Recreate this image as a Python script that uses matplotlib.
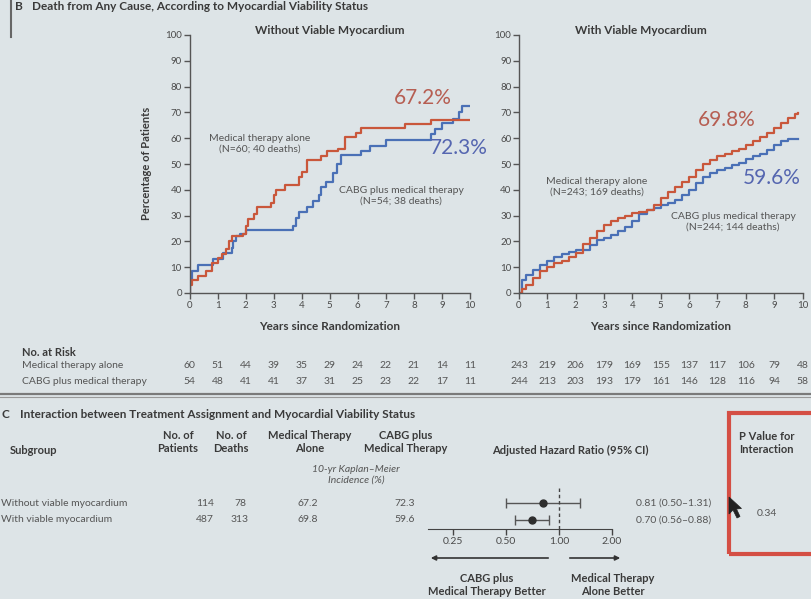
import numpy as np
import matplotlib.pyplot as plt
from matplotlib import transforms
from matplotlib.patches import Rectangle, Polygon, FancyArrowPatch
from matplotlib.lines import Line2D
from matplotlib.ticker import NullLocator

W, H = 811, 599
BG = '#dde4e7'
TXT = '#3a3a3a'
GREY = '#555555'
RED = '#c9573b'
BLUE = '#4a70b6'

plt.rcParams['font.family'] = ['Lato', 'DejaVu Sans']

# --- panel B, without viable myocardium (cumulative % dead, step curves)
t_med_nv = [0, 0.03, 0.1, 0.3, 0.6, 0.8, 1.0, 1.15, 1.3, 1.4, 1.5, 1.9, 2.0, 2.1, 2.3, 2.4,
            2.9, 3.0, 3.1, 3.4, 3.9, 4.0, 4.2, 4.7, 4.9, 5.3, 5.55, 5.95, 6.1, 7.7, 8.6, 10.0]
y_med_nv = [0, 3, 5, 6.5, 8.5, 11.5, 13.5, 15, 17, 20, 22, 23, 26, 28.5, 30.5, 33.5,
            35, 38, 40, 42, 45, 47, 51.5, 53, 55, 56, 60.5, 62, 64, 65.5, 67.2, 67.2]
t_cabg_nv = [0, 0.03, 0.1, 0.3, 0.85, 1.2, 1.5, 1.55, 1.65, 1.8, 2.0, 3.7, 3.8, 3.9, 4.2,
             4.4, 4.6, 4.7, 4.85, 5.1, 5.25, 5.4, 6.1, 6.45, 7.0, 8.6, 8.75, 9.0, 9.4, 9.6,
             9.7, 10.0]
y_cabg_nv = [0, 5, 8.5, 11, 13, 15.5, 17.5, 20, 22, 23, 24.5, 26, 29, 31.5, 33.5,
             35.5, 38, 41, 43, 46.5, 50, 53.5, 55, 57, 59.4, 61.5, 63.5, 66, 67.5, 70,
             72.3, 72.3]

# --- panel B, with viable myocardium
t_med_v = [0, 0.1, 0.25, 0.5, 0.75, 1.0, 1.25, 1.5, 1.75, 2.0, 2.25, 2.5, 2.75, 3.0, 3.25,
           3.5, 3.75, 4.0, 4.25, 4.5, 4.75, 5.0, 5.25, 5.5, 5.75, 6.0, 6.25, 6.5, 6.75,
           7.0, 7.25, 7.5, 7.75, 8.0, 8.25, 8.5, 8.75, 9.0, 9.25, 9.5, 9.75, 9.85]
y_med_v = [0, 1.5, 3, 6, 8.5, 10, 11.5, 12.5, 14, 15.5, 19, 21.5, 24, 26.5, 28,
           29, 30, 31, 31.5, 32, 34, 37, 39, 41, 43, 45, 47.5, 50, 51.5,
           53, 54, 55, 56, 57.5, 59, 60.5, 62, 64, 66, 68, 69.5, 69.8]
t_cabg_v = t_med_v
y_cabg_v = [0, 5, 7, 9, 11, 12.5, 14, 15, 16, 16.5, 16.5, 18.5, 20.5, 21.5, 22.5,
            24, 25.5, 28, 30.5, 32, 33, 34, 35, 36, 38, 40, 42.5, 45, 46.5,
            47.5, 48.5, 49.5, 50.5, 52, 53, 54, 55.5, 57.5, 59, 59.6, 59.6, 59.6]

risk_years = list(range(11))
risk_med_nv = [60, 51, 44, 39, 35, 29, 24, 22, 21, 14, 11]
risk_cabg_nv = [54, 48, 41, 41, 37, 31, 25, 23, 22, 17, 11]
risk_med_v = [243, 219, 206, 179, 169, 155, 137, 117, 106, 79, 48]
risk_cabg_v = [244, 213, 203, 193, 179, 161, 146, 128, 116, 94, 58]

# --- panel C
subgroups = ['Without viable myocardium', 'With viable myocardium']
n_patients = [114, 487]
n_deaths = [78, 313]
km_med = ['67.2', '69.8']
km_cabg = ['72.3', '59.6']
hr = np.array([0.81, 0.70])
hr_lo = np.array([0.50, 0.56])
hr_hi = np.array([1.31, 0.88])
p_interaction = '0.34'

fig = plt.figure(figsize=(W / 100, H / 100), dpi=100, facecolor=BG)


def fx(x):
    return x / W


def fy(y):
    return 1 - y / H


def put(x, y, s, **kw):
    kw.setdefault('color', TXT)
    kw.setdefault('fontsize', 7.5)
    kw.setdefault('va', 'center')
    fig.text(fx(x), fy(y), s, **kw)


def km_axes(x0, x1):
    ax = fig.add_axes([fx(x0), fy(293), fx(x1 - x0), (293 - 35) / H])
    ax.set_facecolor('none')
    ax.set_xlim(0, 10)
    ax.set_ylim(0, 100)
    ax.set_xticks(range(0, 11))
    ax.set_yticks(range(0, 101, 10))
    for s in ['top', 'right']:
        ax.spines[s].set_visible(False)
    for s in ['left', 'bottom']:
        ax.spines[s].set_color(GREY)
        ax.spines[s].set_linewidth(1)
    ax.tick_params(direction='out', length=4, width=1, colors=GREY,
                   labelsize=7, labelcolor='#4a4a4a', pad=1.5)
    return ax


# top heading (cropped off in the photo, kept just inside here)
put(15, 1, 'B', fontsize=8.5, fontweight='bold', va='top')
put(32, 1, 'Death from Any Cause, According to Myocardial Viability Status',
    fontsize=8.5, fontweight='bold', va='top')
fig.add_artist(Line2D([fx(11), fx(11)], [fy(0), fy(37)], color='#666666', lw=1.5))

ax1 = km_axes(189.5, 470)
ax1.step(t_cabg_nv, y_cabg_nv, where='post', color=BLUE, lw=1.6)
ax1.step(t_med_nv, y_med_nv, where='post', color=RED, lw=1.6)
ax2 = km_axes(519, 802.5)
ax2.step(t_cabg_v, y_cabg_v, where='post', color=BLUE, lw=1.6)
ax2.step(t_med_v, y_med_v, where='post', color=RED, lw=1.6)

put(330, 31, 'Without Viable Myocardium', fontsize=8.5, fontweight='bold', ha='center')
put(641, 31, 'With Viable Myocardium', fontsize=8.5, fontweight='bold', ha='center')
put(147, 163, 'Percentage of Patients', fontsize=8, fontweight='bold', ha='center', rotation=90)
put(330, 326, 'Years since Randomization', fontsize=8.5, fontweight='bold', ha='center')
put(661, 326, 'Years since Randomization', fontsize=8.5, fontweight='bold', ha='center')

ann = dict(fontsize=7.5, color='#555555', ha='center', linespacing=1.25)
put(260, 144, 'Medical therapy alone\n(N=60; 40 deaths)', **ann)
put(401, 196, 'CABG plus medical therapy\n(N=54; 38 deaths)', **ann)
put(597, 187, 'Medical therapy alone\n(N=243; 169 deaths)', **ann)
put(733, 222, 'CABG plus medical therapy\n(N=244; 144 deaths)', **ann)
put(423, 98, '67.2%', fontsize=15, color='#b65e52', ha='center')
put(459, 148, '72.3%', fontsize=15, color='#5566b0', ha='center')
put(727, 120, '69.8%', fontsize=15, color='#b65e52', ha='center')
put(772, 178, '59.6%', fontsize=15, color='#5566b0', ha='center')

# number at risk
put(22, 352, 'No. at Risk', fontsize=8, fontweight='bold', ha='left')
put(22, 366, 'Medical therapy alone', fontsize=7.5, color='#555555', ha='left')
put(22, 381, 'CABG plus medical therapy', fontsize=7.5, color='#555555', ha='left')
for ax, r_med, r_cabg in [(ax1, risk_med_nv, risk_cabg_nv), (ax2, risk_med_v, risk_cabg_v)]:
    tr = transforms.blended_transform_factory(ax.transData, fig.transFigure)
    for yr, a, b in zip(risk_years, r_med, r_cabg):
        ax.text(yr, fy(366), str(a), transform=tr, ha='center', va='center',
                fontsize=7.5, color='#555555', clip_on=False)
        ax.text(yr, fy(381), str(b), transform=tr, ha='center', va='center',
                fontsize=7.5, color='#555555', clip_on=False)

fig.add_artist(Line2D([0, 1], [fy(393.5), fy(393.5)], color='#7a7a7a', lw=1.6))
fig.add_artist(Line2D([0, 1], [fy(397), fy(397)], color='#9a9a9a', lw=0.8))

# panel C table
put(2, 415, 'C', fontsize=8.5, fontweight='bold', ha='left')
put(20, 415, 'Interaction between Treatment Assignment and Myocardial Viability Status',
    fontsize=8.5, fontweight='bold', ha='left')
hdr = dict(fontsize=8, fontweight='bold', ha='center', linespacing=1.3)
put(10, 450, 'Subgroup', fontsize=8, fontweight='bold', ha='left')
put(178, 442, 'No. of\nPatients', **hdr)
put(231, 442, 'No. of\nDeaths', **hdr)
put(310, 442, 'Medical Therapy\nAlone', **hdr)
put(406, 442, 'CABG plus\nMedical Therapy', **hdr)
put(570, 450, 'Adjusted Hazard Ratio (95% CI)', fontsize=8, fontweight='bold', ha='center')
put(356, 475, '10-yr Kaplan\u2013Meier\nIncidence (%)', fontsize=7.5, style='italic',
    ha='center', color='#555555', linespacing=1.3)

row_y = [503, 520]
for i, yy in enumerate(row_y):
    put(1, yy, subgroups[i], fontsize=7.5, color='#555555', ha='left')
    put(205, yy, str(n_patients[i]), fontsize=7.5, color='#555555', ha='center')
    put(240, yy, str(n_deaths[i]), fontsize=7.5, color='#555555', ha='center')
    put(308, yy, km_med[i], fontsize=7.5, color='#555555', ha='center')
    put(405, yy, km_cabg[i], fontsize=7.5, color='#555555', ha='center')
    put(636, yy, f'{hr[i]:.2f} ({hr_lo[i]:.2f}\u2013{hr_hi[i]:.2f})', fontsize=7.5,
        color='#555555', ha='left')

# forest plot
fax = fig.add_axes([fx(428), fy(529), fx(612 - 428), (529 - 488) / H])
fax.set_facecolor('none')
fax.set_xscale('log', base=2)
fax.set_xlim(0.18, 2.0)
fax.set_ylim(-0.53, 1.88)
rows = np.array([1, 0])
fax.errorbar(hr, rows, xerr=[hr - hr_lo, hr_hi - hr], fmt='o', color='#2e2e2e',
             ecolor='#555555', elinewidth=1, capsize=3.5, capthick=1, ms=5)
fax.axvline(1, color='#444444', lw=1, ls=(0, (2.5, 2)))
fax.set_xticks([0.25, 0.5, 1, 2])
fax.set_xticklabels(['0.25', '0.50', '1.00', '2.00'])
fax.xaxis.set_minor_locator(NullLocator())
fax.set_yticks([])
for s in ['top', 'right', 'left']:
    fax.spines[s].set_visible(False)
fax.spines['bottom'].set_color('#444444')
fax.tick_params(axis='x', direction='out', length=4, width=1, colors='#444444',
                labelsize=7.5, labelcolor='#4a4a4a', pad=2)

fig.add_artist(FancyArrowPatch((fx(551), fy(558)), (fx(428), fy(558)),
                               transform=fig.transFigure, arrowstyle='-|>',
                               mutation_scale=7, lw=1.2, color='#333333'))
fig.add_artist(FancyArrowPatch((fx(567), fy(558)), (fx(623), fy(558)),
                               transform=fig.transFigure, arrowstyle='-|>',
                               mutation_scale=7, lw=1.2, color='#333333'))
put(487, 585, 'CABG plus\nMedical Therapy Better', fontsize=8, fontweight='bold',
    ha='center', linespacing=1.3)
put(613, 585, 'Medical Therapy\nAlone Better', fontsize=8, fontweight='bold',
    ha='center', linespacing=1.3)

# p value box
fig.add_artist(Rectangle((fx(729), fy(554)), fx(100), (554 - 413) / H,
                         transform=fig.transFigure, fill=False, ec='#d44e44', lw=3))
put(739, 443, 'P Value for\nInteraction', fontsize=8, fontweight='bold', ha='left',
    linespacing=1.3)
put(767, 513, p_interaction, fontsize=7.5, color='#555555', ha='center')

# mouse pointer seen in the photo
cur = [(729, 497), (729, 514), (733, 510), (737, 518), (740, 516.5), (736.5, 509), (741.5, 508.5)]
fig.add_artist(Polygon([(fx(a), fy(b)) for a, b in cur], closed=True,
                       transform=fig.transFigure, fc='#222222', ec='#222222', lw=0.5))

fig.savefig('out.png', dpi=100, facecolor=BG)
